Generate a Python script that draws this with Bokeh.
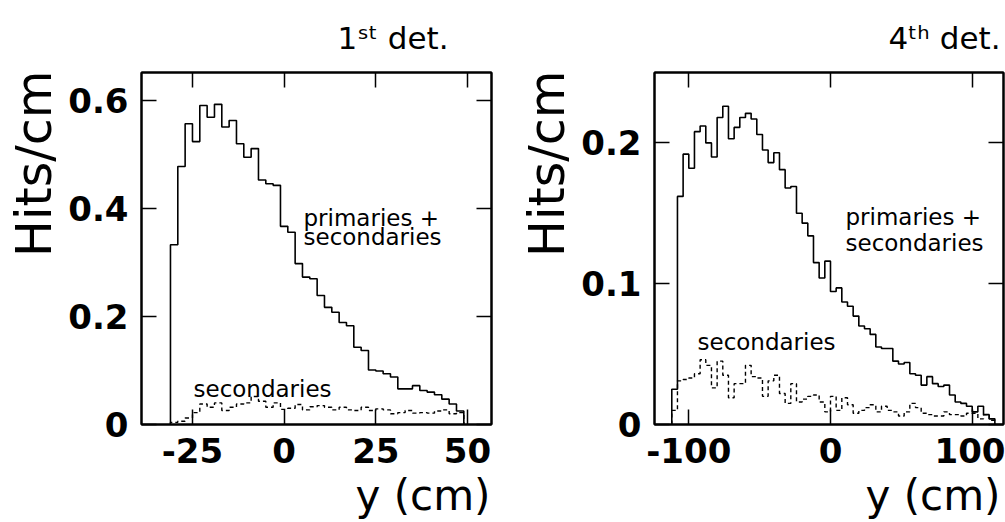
import numpy as np
from bokeh.plotting import figure
from bokeh.layouts import row
from bokeh.models import Label, LinearAxis, FixedTicker, Title
from bokeh.embed import file_html
from bokeh.resources import INLINE

# ---------------- data ----------------
# 1st detector: 2 cm bins from -31 to 49
det1_edges_start = -31.0
det1_bin_width = 2.0
det1_total = [0.333, 0.478, 0.557, 0.524, 0.591, 0.569, 0.593, 0.551, 0.563, 0.520,
              0.495, 0.511, 0.453, 0.446, 0.443, 0.367, 0.356, 0.298, 0.273, 0.270,
              0.239, 0.217, 0.208, 0.189, 0.183, 0.143, 0.137, 0.101, 0.099, 0.094,
              0.088, 0.066, 0.066, 0.072, 0.063, 0.060, 0.055, 0.047, 0.038, 0.025]
det1_secondary = [0.004, 0.006, 0.012, 0.022, 0.038, 0.032, 0.040, 0.026, 0.032, 0.038,
                  0.040, 0.052, 0.043, 0.032, 0.040, 0.028, 0.030, 0.037, 0.027, 0.033,
                  0.035, 0.032, 0.027, 0.032, 0.027, 0.026, 0.032, 0.026, 0.029, 0.027,
                  0.020, 0.022, 0.026, 0.021, 0.022, 0.021, 0.025, 0.027, 0.020, 0.022]

# 4th detector: 4 cm bins from -112 to 116
det4_edges_start = -112.0
det4_bin_width = 4.0
det4_total = [0.025, 0.162, 0.192, 0.182, 0.208, 0.212, 0.200, 0.190, 0.218, 0.226,
              0.203, 0.211, 0.218, 0.221, 0.217, 0.206, 0.195, 0.186, 0.193, 0.181,
              0.168, 0.169, 0.150, 0.143, 0.134, 0.115, 0.104, 0.116, 0.0945, 0.097,
              0.087, 0.084, 0.077, 0.070, 0.068, 0.064, 0.055, 0.054, 0.054, 0.045,
              0.043, 0.044, 0.036, 0.035, 0.028, 0.034, 0.029, 0.027, 0.028, 0.021,
              0.016, 0.015, 0.013, 0.009, 0.013, 0.007, 0.004]
det4_secondary = [0.010, 0.031, 0.032, 0.033, 0.036, 0.046, 0.042, 0.026, 0.045, 0.035,
                  0.019, 0.029, 0.029, 0.042, 0.034, 0.033, 0.020, 0.031, 0.035, 0.022,
                  0.015, 0.029, 0.016, 0.018, 0.020, 0.021, 0.016, 0.009, 0.020, 0.010,
                  0.019, 0.014, 0.008, 0.010, 0.012, 0.014, 0.009, 0.013, 0.010, 0.009,
                  0.006, 0.009, 0.015, 0.012, 0.008, 0.007, 0.006, 0.006, 0.009, 0.007,
                  0.007, 0.006, 0.008, 0.008, 0.004, 0.007, 0.003]

det1_xticks = [-25, 0, 25, 50]
det1_yticks = [0, 0.2, 0.4, 0.6]
det4_xticks = [-100, 0, 100]
det4_yticks = [0, 0.1, 0.2]

det1_title = "1ˢᵗ det."
det4_title = "4ᵗʰ det."
y_title = "Hits/cm"
x_title = "y (cm)"
label_total = ["primaries +", "secondaries"]
label_secondary = "secondaries"

TICK_FONT = "DejaVu Sans"
TEXT_FONT = "DejaVu Sans"
H = 522


def step_xy(start, width, vals):
    n = len(vals)
    edges = start + width * np.arange(n + 1)
    xs = np.concatenate([[edges[0]], edges])
    ys = np.concatenate([[0.0], vals, [0.0]])
    return xs, ys


def tick_labels(ticks):
    return {t: ("%g" % t) for t in ticks}  # ASCII hyphen for negatives


def make_panel(x_range, y_range, xticks, yticks, width, bl, br, total, second,
               start, bw, title, title_offset, xlab_offset):
    p = figure(width=width, height=H, x_range=x_range, y_range=y_range,
               output_backend="svg", toolbar_location=None,
               min_border_left=bl, min_border_right=br,
               min_border_top=72, min_border_bottom=H - 72 - 352)
    p.outline_line_color = "black"
    p.outline_line_width = 2
    p.xgrid.visible = False
    p.ygrid.visible = False

    p.title.text = title
    p.title.align = "right"
    p.title.offset = title_offset
    p.title.standoff = 34
    p.title.text_font = TEXT_FONT
    p.title.text_font_size = "31px"
    p.title.text_font_style = "normal"
    p.title.text_color = "black"

    for ax, ticks in ((p.xaxis[0], xticks), (p.yaxis[0], yticks)):
        ax.ticker = FixedTicker(ticks=ticks)
        ax.major_tick_in = 15
        ax.major_tick_out = 0
        ax.minor_tick_line_color = None
        ax.axis_line_width = 2
        ax.major_tick_line_width = 1.5
        ax.major_label_text_font = TICK_FONT
        ax.major_label_text_font_style = "bold"
        ax.major_label_text_font_size = "34px"
        ax.major_label_text_color = "black"
        ax.major_label_standoff = 13
        ax.axis_label_standoff = 0
        ax.major_label_overrides = tick_labels(ticks)

    for side, ticks in (("above", xticks), ("right", yticks)):
        ax = LinearAxis(ticker=FixedTicker(ticks=ticks), major_tick_in=15,
                        major_tick_out=0, minor_tick_line_color=None,
                        major_label_text_font_size="0px", major_label_standoff=0,
                        axis_label_standoff=0, axis_line_width=2,
                        major_tick_line_width=1.5)
        p.add_layout(ax, side)

    p.add_layout(Title(text=y_title, align="right", offset=-2, standoff=5,
                       text_font=TEXT_FONT, text_font_size="49px",
                       text_font_style="normal", text_color="black"), "left")
    p.add_layout(Title(text=x_title, align="right", offset=xlab_offset, standoff=6,
                       text_font=TEXT_FONT, text_font_size="42px",
                       text_font_style="normal", text_color="black"), "below")

    xs, ys = step_xy(start, bw, total)
    p.step(xs, ys, mode="after", line_color="black", line_width=1.6)
    xs2, ys2 = step_xy(start, bw, second)
    p.step(xs2, ys2, mode="after", line_color="black", line_width=1.4,
           line_dash="4 3")
    return p


# left panel: frame 141..491 px, 72..424 px (page coords)
pL = make_panel((-38.9, 56.55), (0.0, 0.652), det1_xticks, det1_yticks, 505, 141,
                505 - 141 - 350, det1_total, det1_secondary, det1_edges_start,
                det1_bin_width, det1_title, 43, 1)
# right panel: frame 654..1003 px
pR = make_panel((-124.2, 122.1), (0.0, 0.25), det4_xticks, det4_yticks, 500, 149, 2,
                det4_total, det4_secondary, det4_edges_start, det4_bin_width,
                det4_title, 3, 3)


def labeller(p, frame_left, frame_bottom):
    def add(text, px, py, size="23px"):
        p.add_layout(Label(x=px - frame_left, y=frame_bottom - py,
                           x_units="screen", y_units="screen",
                           text=text, text_font=TEXT_FONT,
                           text_font_size=size, text_align="left",
                           text_baseline="alphabetic", text_color="black"))
    return add


addL = labeller(pL, 141, 424)
addL(label_total[0], 303, 217)
addL(label_total[1], 303, 236)
addL(label_secondary, 193, 388)

addR = labeller(pR, 654 - 505, 424)
addR(label_total[0], 845 - 505, 216)
addR(label_total[1], 845 - 505, 242)
addR(label_secondary, 697 - 505, 341)

layout = row(pL, pR)
open("out.html", "w").write(file_html(layout, INLINE))
